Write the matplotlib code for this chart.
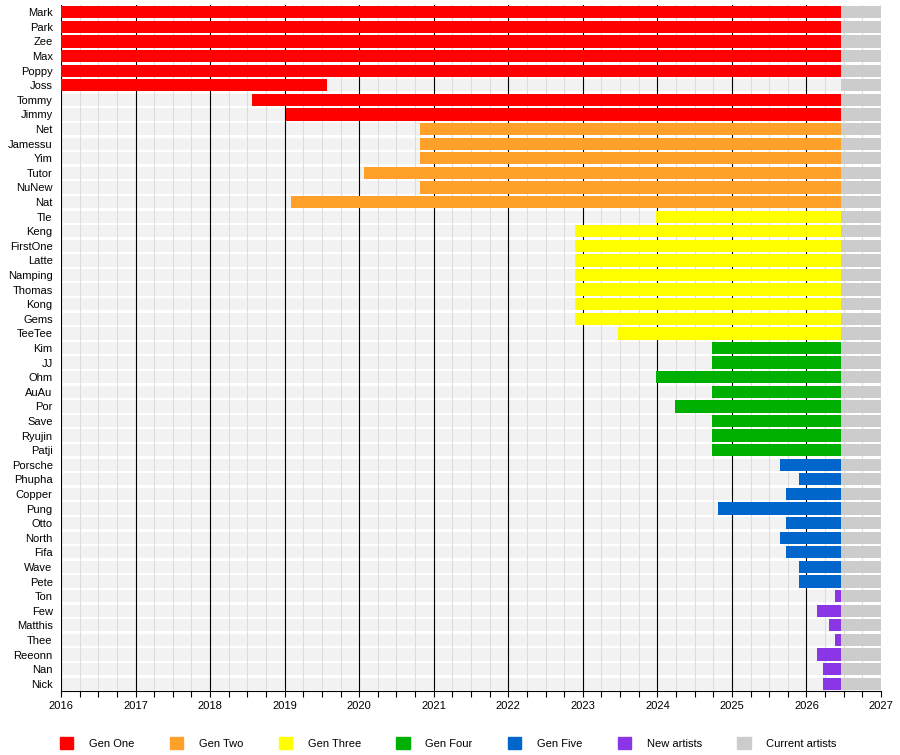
import matplotlib.pyplot as plt
from matplotlib.patches import Patch
from matplotlib.ticker import MultipleLocator

names = ["Mark", "Park", "Zee", "Max", "Poppy", "Joss", "Tommy", "Jimmy",
         "Net", "Jamessu", "Yim", "Tutor", "NuNew", "Nat",
         "Tle", "Keng", "FirstOne", "Latte", "Namping", "Thomas", "Kong", "Gems", "TeeTee",
         "Kim", "JJ", "Ohm", "AuAu", "Por", "Save", "Ryujin", "Patji",
         "Porsche", "Phupha", "Copper", "Pung", "Otto", "North", "Fifa", "Wave", "Pete",
         "Ton", "Few", "Matthis", "Thee", "Reeonn", "Nan", "Nick"]
starts = [2016, 2016, 2016, 2016, 2016, 2016, 2018.56, 2019.02,
          2020.82, 2020.82, 2020.82, 2020.06, 2020.82, 2019.09,
          2023.98, 2022.9, 2022.9, 2022.9, 2022.9, 2022.9, 2022.9, 2022.9, 2023.47,
          2024.73, 2024.73, 2023.98, 2024.73, 2024.24, 2024.73, 2024.73, 2024.73,
          2025.64, 2025.9, 2025.72, 2024.81, 2025.72, 2025.64, 2025.72, 2025.9, 2025.9,
          2026.38, 2026.14, 2026.3, 2026.38, 2026.14, 2026.22, 2026.22]
ends = [2026.46] * 5 + [2019.57] + [2026.46] * 41
groups = [0] * 8 + [1] * 6 + [2] * 9 + [3] * 8 + [4] * 9 + [5] * 7
group_names = ["Gen One", "Gen Two", "Gen Three", "Gen Four", "Gen Five", "New artists", "Current artists"]
colors = ["#ff0000", "#ffa02a", "#ffff00", "#00b000", "#0066cc", "#8a36e6", "#cccccc"]
today = 2026.46

fig = plt.figure(figsize=(9, 7.55), dpi=100)
ax = fig.add_axes([61 / 900, 64 / 755, 820 / 900, 686 / 755])
n = len(names)
for i in range(n):
    y = n - 1 - i
    ax.barh(y, 2027 - 2016, left=2016, height=0.84, color="#f2f2f2", zorder=0)
    ax.barh(y, 2027 - today, left=today, height=0.84, color=colors[6], zorder=2)
    ax.barh(y, ends[i] - starts[i], left=starts[i], height=0.84, color=colors[groups[i]], zorder=2)

for q in [2016 + k * 0.25 for k in range(45)]:
    if q % 1:
        ax.axvline(q, color="#dddddd", lw=0.8, zorder=1)
    else:
        ax.axvline(q, color="black", lw=0.8, zorder=1.5)

ax.set_xlim(2016, 2027)
ax.set_ylim(-0.5, n - 0.5)
ax.set_yticks(range(n))
ax.set_yticklabels(names[::-1], fontsize=8, family="Liberation Sans")
ax.tick_params(axis="y", length=0, pad=6)
ax.set_xticks(range(2016, 2028))
ax.set_xticklabels([str(v) for v in range(2016, 2028)], fontsize=8, family="Liberation Sans")
ax.xaxis.set_minor_locator(MultipleLocator(0.25))
ax.tick_params(axis="x", which="both", direction="out", length=4, width=0.8)
for s in ["top", "right", "left"]:
    ax.spines[s].set_visible(False)

handles = [Patch(color=c) for c in colors]
fig.legend(handles, group_names, loc="lower left", bbox_to_anchor=(50 / 900, -0.005), ncol=7,
           frameon=False, fontsize=8, prop={"family": "Liberation Sans", "size": 8},
           handlelength=1.2, handleheight=1.2, columnspacing=3.2, handletextpad=1.4)
fig.savefig("out.png")
